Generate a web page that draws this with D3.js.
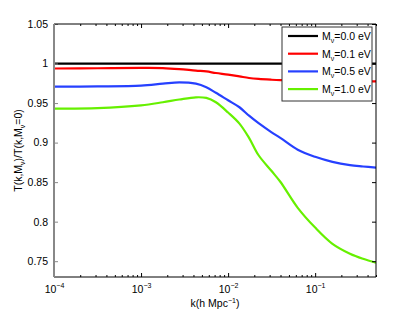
<!DOCTYPE html>
<html>
<head>
<meta charset="utf-8">
<script src="https://cdn.jsdelivr.net/npm/d3@7"></script>
<style>
  body { margin: 0; background: #fff; }
  text { font-family: "Liberation Sans", Arial, sans-serif; fill: #000; }
</style>
</head>
<body>
<div class="chart"></div>
<script>
const svgWidth = 415;
const svgHeight = 312;

const margin = { top: 24, right: 39, bottom: 35, left: 54 };
const width = svgWidth - margin.left - margin.right;
const height = svgHeight - margin.top - margin.bottom;

// data
const kValues = [1e-4, 3.16e-4, 1e-3, 1.78e-3, 2.75e-3, 4.27e-3, 5.62e-3, 7.24e-3,
  1e-2, 1.35e-2, 1.74e-2, 2.24e-2, 3.16e-2, 3.98e-2, 6.31e-2, 0.1, 0.158, 0.251, 0.355, 0.5];
const ratio00 = [1, 1, 1, 1, 1, 1, 1, 1, 1, 1, 1, 1, 1, 1, 1, 1, 1, 1, 1, 1];
const ratio01 = [0.9937, 0.994, 0.9945, 0.9943, 0.993, 0.991, 0.990, 0.988, 0.986, 0.9837,
  0.9817, 0.9805, 0.9795, 0.979, 0.9785, 0.978, 0.978, 0.9778, 0.9776, 0.9775];
const ratio05 = [0.9707, 0.971, 0.972, 0.9745, 0.9762, 0.9745, 0.970, 0.963, 0.9535, 0.9447,
  0.934, 0.9245, 0.913, 0.906, 0.891, 0.882, 0.8756, 0.8715, 0.8698, 0.8683];
const ratio10 = [0.943, 0.9435, 0.947, 0.951, 0.9545, 0.9573, 0.9565, 0.951, 0.938, 0.924,
  0.906, 0.884, 0.864, 0.8505, 0.8175, 0.7925, 0.772, 0.7595, 0.753, 0.748];
const seriesLabels = ["0.0", "0.1", "0.5", "1.0"];
const seriesColors = ["#000000", "#ff0000", "#2640ff", "#66f000"];
const yTicks = [0.75, 0.8, 0.85, 0.9, 0.95, 1, 1.05];
const xMajor = [1e-4, 1e-3, 1e-2, 1e-1];

const series = [ratio00, ratio01, ratio05, ratio10];

const svg = d3.select(".chart")
  .append("svg")
  .attr("width", svgWidth)
  .attr("height", svgHeight);

const chartGroup = svg.append("g")
  .attr("transform", `translate(${margin.left}, ${margin.top})`);

// scales
const xScale = d3.scaleLog().domain([1e-4, 0.5]).range([0, width]);
const yScale = d3.scaleLinear().domain([0.73, 1.05]).range([height, 0]);

// clip
svg.append("defs").append("clipPath").attr("id", "clip")
  .append("rect").attr("width", width).attr("height", height);

// lines
const line = d3.line()
  .x((d, i) => xScale(kValues[i]))
  .y(d => yScale(d))
  .curve(d3.curveCatmullRom.alpha(0.5));

chartGroup.append("g").attr("clip-path", "url(#clip)")
  .selectAll("path")
  .data(series)
  .enter()
  .append("path")
  .attr("d", d => line(d))
  .attr("fill", "none")
  .attr("stroke", (d, i) => seriesColors[i])
  .attr("stroke-width", 2.2);

// minor ticks for log axis
const xMinor = xScale.ticks().filter(t => !xMajor.some(m => Math.abs(m - t) / m < 1e-9));

function styleAxis(g, color) {
  g.select(".domain").remove();
  g.selectAll("line").attr("stroke", color || "#000");
  g.selectAll("text").attr("font-size", 10.5);
}

// bottom axis
chartGroup.append("g")
  .attr("transform", `translate(0, ${height})`)
  .call(d3.axisBottom(xScale).tickValues(xMinor).tickSize(-2).tickFormat(""))
  .call(g => styleAxis(g));
const xAxisB = chartGroup.append("g")
  .attr("transform", `translate(0, ${height})`)
  .call(d3.axisBottom(xScale).tickValues(xMajor).tickSize(-4).tickPadding(9).tickFormat(""))
  .call(g => styleAxis(g));
xAxisB.selectAll(".tick text")
  .attr("text-anchor", "middle")
  .each(function (d) {
    const t = d3.select(this);
    t.append("tspan").text("10");
    t.append("tspan").attr("dy", -5).attr("font-size", 7).text("\u2212" + Math.round(-Math.log10(d)));
  });

// top axis
chartGroup.append("g")
  .call(d3.axisTop(xScale).tickValues(xMinor).tickSize(-2).tickFormat(""))
  .call(g => styleAxis(g));
chartGroup.append("g")
  .call(d3.axisTop(xScale).tickValues(xMajor).tickSize(-4).tickFormat(""))
  .call(g => styleAxis(g));

// left and right axes
chartGroup.append("g")
  .call(d3.axisLeft(yScale).tickValues(yTicks).tickSize(-4).tickPadding(6)
    .tickFormat(d => String(+d.toFixed(2))))
  .call(g => styleAxis(g, "#888"));
chartGroup.append("g")
  .attr("transform", `translate(${width}, 0)`)
  .call(d3.axisRight(yScale).tickValues(yTicks).tickSize(-4).tickFormat(""))
  .call(g => styleAxis(g));

// frame
chartGroup.append("line").attr("x1", 0).attr("x2", width).attr("y1", height).attr("y2", height)
  .attr("stroke", "#000");
chartGroup.append("line").attr("x1", 0).attr("x2", width).attr("y1", 0).attr("y2", 0)
  .attr("stroke", "#000");
chartGroup.append("line").attr("x1", width).attr("x2", width).attr("y1", 0).attr("y2", height)
  .attr("stroke", "#000");
chartGroup.append("line").attr("x1", 0).attr("x2", 0).attr("y1", 0).attr("y2", height)
  .attr("stroke", "#888").attr("stroke-width", 2);

// axis labels
const xLabel = svg.append("text")
  .attr("x", margin.left + width / 2)
  .attr("y", 307)
  .attr("text-anchor", "middle")
  .attr("font-size", 10.5);
xLabel.append("tspan").text("k(h Mpc");
xLabel.append("tspan").attr("dy", -4).attr("font-size", 7).text("\u22121");
xLabel.append("tspan").attr("dy", 4).text(")");

const yLabel = svg.append("text")
  .attr("transform", `translate(22, ${margin.top + height / 2}) rotate(-90)`)
  .attr("text-anchor", "middle")
  .attr("font-size", 10.5);
yLabel.append("tspan").text("T(k,M");
yLabel.append("tspan").attr("dy", 3).attr("font-size", 7).text("\u03bd");
yLabel.append("tspan").attr("dy", -3).text(")/T(k,M");
yLabel.append("tspan").attr("dy", 3).attr("font-size", 7).text("\u03bd");
yLabel.append("tspan").attr("dy", -3).text("=0)");

// legend
const legend = svg.append("g").attr("transform", "translate(282, 27)");
legend.append("rect")
  .attr("width", 90).attr("height", 74)
  .attr("fill", "#fff").attr("stroke", "#333").attr("stroke-width", 1);
const entries = legend.selectAll("g.entry")
  .data(seriesLabels)
  .enter()
  .append("g")
  .attr("transform", (d, i) => `translate(0, ${9 + i * 17.7})`);
entries.append("line")
  .attr("x1", 6).attr("x2", 36)
  .attr("stroke", (d, i) => seriesColors[i])
  .attr("stroke-width", 2.2);
const et = entries.append("text")
  .attr("x", 40).attr("y", 4)
  .attr("font-size", 10.5);
et.append("tspan").text("M");
et.append("tspan").attr("dy", 3).attr("font-size", 7).text("\u03bd");
et.append("tspan").attr("dy", -3).text(d => "=" + d + " eV");
</script>
</body>
</html>
